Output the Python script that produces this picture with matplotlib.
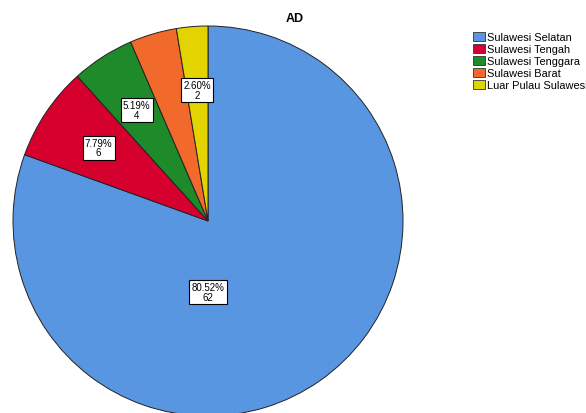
import matplotlib
matplotlib.use("Agg")
import matplotlib.pyplot as plt
import numpy as np

categories = ["Sulawesi Selatan", "Sulawesi Tengah", "Sulawesi Tenggara", "Sulawesi Barat", "Luar Pulau Sulawesi"]
counts = [62, 6, 4, 3, 2]
show_label = [True, True, True, False, True]
colors = ["#5896E2", "#D6002E", "#1E8A2A", "#F2692C", "#E3D300"]
title = "AD"

plt.rcParams['font.family'] = ['Liberation Sans', 'DejaVu Sans']

W, H = 586, 414
fig = plt.figure(figsize=(W / 100, H / 100), dpi=100)
cx, cy, r = 208, 192, 195
ax = fig.add_axes([(cx - r) / W, (cy - r) / H, 2 * r / W, 2 * r / H])

wedges, _ = ax.pie(counts, colors=colors, startangle=90, counterclock=False,
                   radius=1.0, frame=True,
                   wedgeprops=dict(edgecolor="#222222", linewidth=0.7))
ax.set_xlim(-1, 1)
ax.set_ylim(-1, 1)
ax.set_aspect('equal')
ax.axis('off')

total = sum(counts)
for i, (w, c) in enumerate(zip(wedges, counts)):
    if not show_label[i]:
        continue
    pct = 100.0 * c / total
    txt = f"{pct:.2f}%\n{c}"
    if i == 0:
        x, y = 0.0, -0.365
    else:
        mid = np.deg2rad((w.theta1 + w.theta2) / 2)
        d = 0.675
        x, y = d * np.cos(mid), d * np.sin(mid)
    ax.text(x, y, txt, ha='center', va='center', fontsize=7, linespacing=0.95,
            bbox=dict(boxstyle='square,pad=0.22', facecolor='white', edgecolor='black', linewidth=0.8))

fig.text(295 / W, 1 - 19 / H, title, ha='center', va='center', fontsize=9, fontweight='bold')

handles = [plt.Rectangle((0, 0), 1, 1, facecolor=c, edgecolor='#333333', linewidth=0.6) for c in colors]
fig.legend(handles, categories, loc='upper left', bbox_to_anchor=(473 / W, 1 - 33 / H),
           frameon=False, fontsize=7.9, handlelength=1.05, handleheight=0.85,
           handletextpad=0.2, labelspacing=0.17, borderaxespad=0, borderpad=0)

fig.savefig("out.png", dpi=100)
